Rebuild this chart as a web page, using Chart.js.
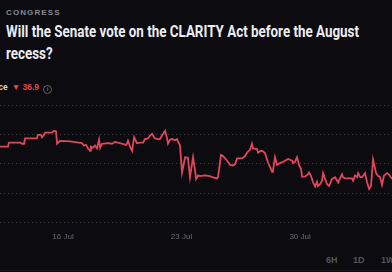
<!DOCTYPE html>
<html>
<head>
<meta charset="utf-8">
<script src="https://cdn.jsdelivr.net/npm/chart.js@4/dist/chart.umd.min.js"></script>
<style>
  html, body { margin: 0; padding: 0; }
  body { width: 392px; height: 272px; background: #0b0b10; overflow: hidden; position: relative; font-family: "Liberation Sans", Arial, sans-serif; }
  .cat { position: absolute; left: 6px; top: 8px; font-size: 8px; font-weight: 700; letter-spacing: 1.1px; color: #8a8a92; }
  .title { position: absolute; left: 6px; top: 20px; font-family: Roboto, sans-serif; font-weight: 700; font-size: 17px; line-height: 22px; color: #ececf0; transform-origin: 0 0; white-space: nowrap; }
  .stat { position: absolute; left: -23px; top: 82px; font-size: 8.5px; font-weight: 700; color: #d8d8dc; white-space: nowrap; }
  .stat .down { color: #e5484d; margin-left: 4px; }
  .stat .info { display: inline-block; width: 7px; height: 7px; border: 1px solid #666; border-radius: 50%; color: #666; font-size: 6px; line-height: 7px; text-align: center; margin-left: 4px; vertical-align: -1px; }
  .chart { position: absolute; left: 0; top: 100px; width: 392px; height: 152px; }
  .ranges { position: absolute; top: 255px; left: 0; width: 392px; font-size: 9px; font-weight: 700; color: #55555c; }
  .ranges span { position: absolute; }
  .rule { position: absolute; left: 0; top: 270px; width: 392px; height: 1px; background: #1e1e24; }
</style>
</head>
<body>
<div class="cat">CONGRESS</div>
<div class="title" id="title"><div id="titleLine1">Will the Senate vote on the CLARITY Act before the August</div><div>recess?</div></div>
<div class="stat">Chance<span class="down">▼ 36.9</span><span class="info">i</span></div>
<div class="chart"><canvas id="chanceChart"></canvas></div>
<div class="ranges"><span style="left:326px">6H</span><span style="left:353px">1D</span><span style="left:381px">1W</span></div>
<div class="rule"></div>
<script>
// day of July (fractional; >31 runs into August)
const days = [12.28, 12.75, 12.81, 13.46, 13.58, 13.70, 13.76, 14.46, 14.52, 14.70, 14.76, 14.88, 14.94, 15.35, 15.47, 15.59, 15.65, 15.82, 16.41, 17.12,
  17.24, 17.36, 17.48, 17.60, 17.65, 17.77, 17.89, 18.01, 18.13, 18.19, 18.30, 18.66, 18.89, 19.07, 19.25, 19.49, 19.72, 19.78, 19.84, 19.96,
  20.08, 20.20, 20.37, 20.55, 20.73, 20.84, 21.02, 21.14, 21.26, 21.43, 21.61, 21.73, 21.91, 22.03, 22.14, 22.20, 22.32, 22.44, 22.62, 22.73,
  22.91, 23.03, 23.21, 23.38, 23.50, 23.68, 23.80, 23.86, 23.98, 24.09, 24.39, 24.68, 24.80, 25.10, 25.16, 25.33, 25.45, 25.69, 25.87, 26.04,
  26.16, 26.28, 26.57, 26.75, 26.87, 27.05, 27.16, 27.22, 27.46, 27.52, 27.70, 27.81, 27.93, 28.11, 28.35, 28.40, 28.52, 28.64, 28.82, 28.99,
  29.11, 29.29, 29.53, 29.59, 29.70, 29.82, 29.94, 30.06, 30.12, 30.30, 30.47, 30.53, 30.65, 30.77, 30.89, 31.00, 31.06, 31.18, 31.30, 31.36,
  31.48, 31.60, 31.71, 31.89, 32.07, 32.25, 32.36, 32.48, 32.54, 32.66, 33.07, 33.13, 33.25, 33.37, 33.43, 33.55, 33.66, 33.84, 33.96, 34.08,
  34.19, 34.31, 34.49, 34.61, 34.73, 34.84, 34.96, 35.14, 35.26, 35.43];

const chance = [42.9, 42.9, 43.6, 43.6, 43.4, 43.4, 44.3, 44.3, 44.9, 44.9, 44.5, 44.9, 45.3, 45.3, 45.6, 45.5, 43.4, 43.9, 43.8, 43.5,
  43.1, 43.2, 42.6, 42.2, 42.9, 42.7, 43.1, 42.6, 44.1, 42.7, 43.4, 43.5, 43.4, 43.7, 43.6, 43.4, 43.2, 43.4, 43.9, 42.9,
  42.2, 44.5, 43.5, 43.6, 43.6, 44.2, 44.3, 44.8, 45.1, 44.3, 44.2, 44.2, 45.1, 45.6, 44.4, 43.4, 44.1, 44.2, 44.0, 44.2,
  43.1, 38.5, 41.1, 41.0, 37.7, 41.1, 38.8, 37.4, 38.0, 37.9, 38.0, 37.9, 37.7, 37.5, 37.8, 41.5, 41.3, 40.5, 39.8, 39.7,
  39.9, 40.9, 40.9, 41.3, 41.9, 42.4, 43.4, 42.6, 42.5, 41.9, 42.2, 42.1, 41.8, 40.2, 38.6, 38.8, 41.1, 39.8, 40.1, 40.3,
  40.5, 40.8, 40.5, 40.1, 40.3, 41.1, 39.8, 39.1, 37.8, 37.8, 38.2, 38.5, 37.9, 36.8, 36.1, 36.9, 36.2, 36.5, 37.1, 38.4,
  37.4, 36.5, 36.2, 37.4, 37.7, 36.8, 37.5, 38.2, 37.7, 37.5, 37.5, 37.1, 38.0, 37.7, 38.4, 37.7, 37.7, 38.4, 36.8, 35.7,
  36.2, 40.7, 38.4, 37.9, 37.7, 36.4, 38.0, 38.4, 38.1, 37.4];

const tickDays = [16, 23, 30];
const monthNames = ['Jul', 'Aug'];

// squeeze the title into the condensed width of the original
const line1 = document.getElementById('titleLine1');
const w = line1.getBoundingClientRect().width;
document.getElementById('title').style.transform = 'scaleX(' + (353 / w) + ')';

new Chart(document.getElementById('chanceChart'), {
  type: 'line',
  data: {
    datasets: [{
      data: days.map((d, i) => ({ x: d, y: chance[i] })),
      borderColor: '#e0475a',
      borderWidth: 1.8,
      pointRadius: 0,
      tension: 0,
      fill: false
    }]
  },
  options: {
    responsive: true,
    maintainAspectRatio: false,
    animation: false,
    layout: { padding: { top: 5, left: 0, right: 0, bottom: 0 } },
    plugins: { legend: { display: false }, tooltip: { enabled: false } },
    scales: {
      x: {
        type: 'linear',
        min: days[0],
        max: days[days.length - 1],
        afterBuildTicks: axis => { axis.ticks = tickDays.map(v => ({ value: v })); },
        ticks: {
          color: '#6a6a72',
          font: { size: 8, family: 'Liberation Sans' },
          padding: 10,
          maxRotation: 0,
          callback: v => v <= 31 ? v + ' ' + monthNames[0] : (v - 31) + ' ' + monthNames[1]
        },
        grid: { display: false, drawTicks: false },
        border: { display: false }
      },
      y: {
        min: 30,
        max: 50,
        ticks: { display: false, stepSize: 5 },
        grid: { color: '#3a3a42', drawTicks: false, lineWidth: 1, borderDash: [1, 3] },
        border: { display: false, dash: [1, 3] }
      }
    }
  }
});
</script>
</body>
</html>
